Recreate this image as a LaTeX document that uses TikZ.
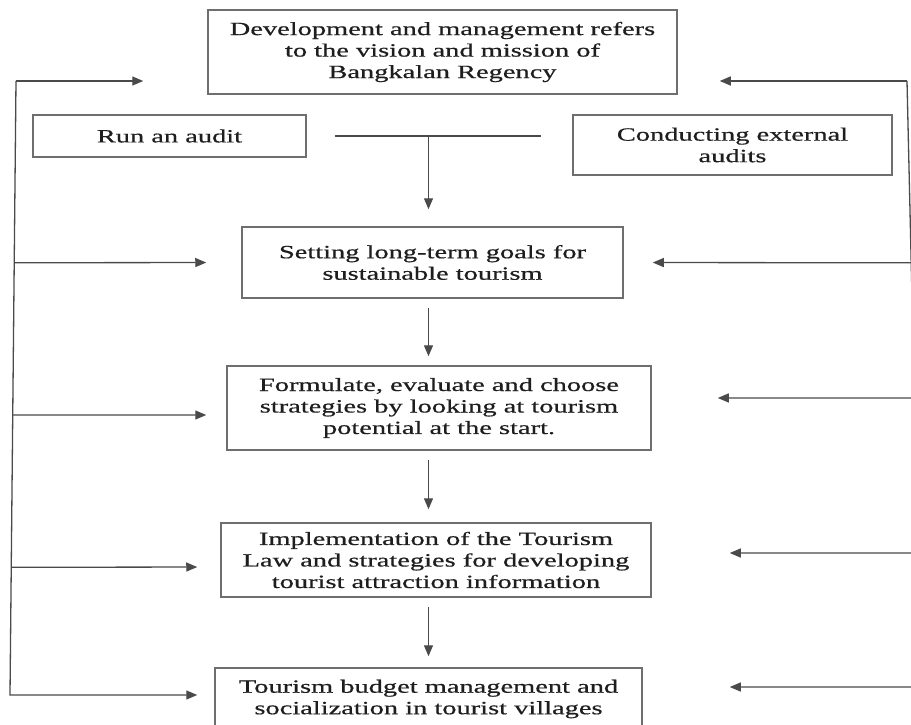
\documentclass[tikz,border=0pt]{standalone}
\usepackage{fontspec}
\setmainfont[FakeStretch=1.52,FakeBold=0.6]{Liberation Serif}
\usepackage{tikz}
\usetikzlibrary{calc}
\usetikzlibrary{arrows.meta}
\definecolor{boxgray}{HTML}{6E6E6E}
\definecolor{linegray}{HTML}{4A4A4A}
\definecolor{textgray}{HTML}{1E1E1E}
\tikzstyle{arrow} = [line width=1.3pt,draw=linegray,->,>={Triangle[length=11pt,width=9pt]}]
\tikzstyle{link} = [line width=1.3pt,draw=linegray]

\begin{document}
\begin{tikzpicture}[x=1pt,y=-1pt,
  box/.style = {draw=boxgray,line width=1.5pt,inner sep=0pt,text=textgray,
        font=\fontsize{18.7}{21.5}\selectfont,align=center}
]
\useasboundingbox (0,0) rectangle (911,725);
 \node[box,minimum width=469pt,minimum height=84pt] (b1) at (442.5,52)
   {Development and management refers\\to the vision and mission of\\Bangkalan Regency};
 \node[box,minimum width=273pt,minimum height=42pt] (b2) at (169.5,136) {Run an audit};
 \node[box,minimum width=319pt,minimum height=60pt] (b3) at (732.5,145) {Conducting external\\audits};
 \node[box,minimum width=381pt,minimum height=71pt] (b4) at (432.5,262.5)
   {Setting long-term goals for\\sustainable tourism};
 \node[box,minimum width=424pt,minimum height=84pt] (b5) at (439,408)
   {Formulate, evaluate and choose\\strategies by looking at tourism\\potential at the start.};
 \node[box,minimum width=430pt,minimum height=74pt] (b6) at (436,560)
   {Implementation of the Tourism\\Law and strategies for developing\\tourist attraction information};
 \node[box,minimum width=427pt,minimum height=62pt] (b7) at (428.5,699)
   {Tourism budget management and\\socialization in tourist villages};
 % feedback lines on both sides
 \coordinate (lt) at (16,81);
 \coordinate (lb) at (10,695);
 \coordinate (rt) at (907,81);
 \coordinate (rb) at (921,687);
 % audits joined into one arrow
 \coordinate (a1) at ([xshift=28pt]b2.east);
 \coordinate (a2) at ([xshift=-31pt]b3.west |- a1);
 \coordinate (ax) at (428.5,135);
 \draw[link] (a1) -- (a2);
 \draw[arrow,shorten >=17pt] (ax) -- (b4.north -| ax);
 \begin{scope}[shorten <=9pt]
  \draw[arrow,shorten >=9pt] (b4.south -| ax) -- (b5.north -| ax);
  \draw[arrow,shorten >=13pt] (b5.south -| ax) -- (b6.north -| ax);
  \draw[arrow,shorten >=11pt] (b6.south -| ax) -- (b7.north -| ax);
 \end{scope}
 % left side
 \draw[arrow,shorten >=64pt] (lt) -- ([yshift=-29pt]b1.west);
 \draw[arrow,shorten >=17pt] (lt) -- (lb) -- ([yshift=4pt]b7.west);
 \draw[arrow,shorten >=35pt] ($(lt)!.296!(lb)$) -- (b4.west);
 \draw[arrow,shorten >=20pt] ($(lt)!.544!(lb)$) -- ([yshift=-7pt]b5.west);
 \draw[arrow,shorten >=23pt] ($(lt)!.792!(lb)$) -- ([yshift=-7pt]b6.west);
 % right side
 \draw[arrow,shorten >=42pt] (rt) -- ([yshift=-29pt]b1.east);
 \draw[arrow,shorten >=87pt] (rt) -- (rb) -- ([yshift=12pt]b7.east);
 \draw[arrow,shorten >=29pt] ($(rt)!.300!(rb)$) -- (b4.east);
 \draw[arrow,shorten >=66pt] ($(rt)!.523!(rb)$) -- ([yshift=10pt]b5.east);
 \draw[arrow,shorten >=78pt] ($(rt)!.779!(rb)$) -- ([yshift=7pt]b6.east);
\end{tikzpicture}
\end{document}
